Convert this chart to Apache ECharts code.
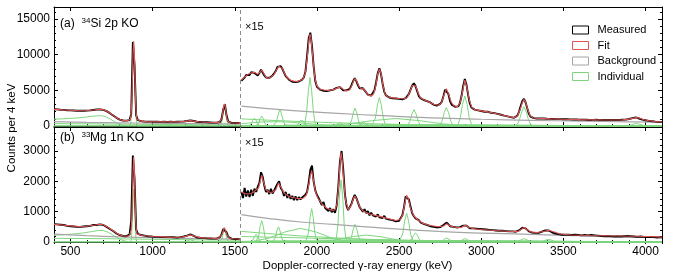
<!DOCTYPE html>
<html><head><meta charset="utf-8">
<script src="https://cdn.jsdelivr.net/npm/echarts@6/dist/echarts.min.js"></script>
<style>html,body{margin:0;padding:0;background:#fff}#c{width:675px;height:275px}</style>
</head><body><div id="c"></div>
<script>
// ---------- axis / scale constants ----------
const E_MIN = 400, E_MAX = 4100, SPLIT_E = 1535, SCALE = 15, BIN = 10;
const xMajor = [500, 1000, 1500, 2000, 2500, 3000, 3500, 4000];
const yMajorTop = [0, 5000, 10000, 15000];
const yMajorBot = [0, 1000, 2000, 3000];
const yMaxTop = 16700, yMaxBot = 3790;
const yMinorTop = 1000, yMinorBot = 200, xMinor = 100;

// ---------- (a) 34Si 2p KO : measured counts (displayed), 10 keV sampling ----------
const measTopLeftStart = 400;
const measTopLeft = [
2350,2310,2330,2280,2290,2250,2270,2230,2210,2240,
2190,2210,2170,2180,2150,2160,2130,2170,2150,2180,
2160,2200,2190,2240,2250,2290,2310,2350,2320,2340,
2260,2210,2080,1960,1800,1660,1480,1300,1150,990,
900,830,770,740,750,760,830,1700,11800,8600,
1500,820,740,690,660,640,620,610,600,610,
590,600,580,590,600,580,570,590,580,570,
580,590,570,580,590,600,590,610,620,640,
660,700,720,780,760,700,640,600,580,570,
550,540,530,520,510,500,490,480,480,470,
490,560,1050,2300,3050,1500,650,480,440,430,
420,410,420,400];
const measTopRightStart = 1540;
const measTopRight = [
6350,6550,6800,7150,7350,7150,7550,7650,7450,7200,
7100,7450,7900,7700,7100,6800,6600,6750,6950,7100,
7400,7750,8300,8550,8400,8000,7500,7000,6750,6500,
6400,6200,6350,6150,6300,6250,6450,6500,6800,7600,
9800,12300,13100,11200,8400,6300,5500,5300,5100,5200,
4950,5050,4900,5100,5000,5150,5100,5250,5350,5500,
5450,5250,5000,4900,5000,4950,5200,5700,6300,6700,
6300,5700,5300,5100,5300,5000,4700,4400,4200,4250,
4400,5000,6100,7400,8100,7300,5900,4800,4300,4150,
4000,4050,3900,3950,3850,3900,3800,3850,3750,3850,
3900,4100,4500,5100,5700,6000,5600,4900,4200,3900,
3800,3650,3550,3500,3350,3300,3100,3000,2950,2850,
2900,3100,3400,4200,5100,5300,4500,3500,3000,2750,
2700,2650,2750,3200,4200,5600,6600,5800,4400,3200,
2600,2350,2300,2250,2200,2150,2100,2150,2000,1950,
2000,1900,1850,1900,1800,1750,1700,1650,1580,1500,
1450,1400,1350,1300,1250,1200,1150,1200,1450,2000,
2800,3500,3800,3300,2500,1700,1300,1150,1100,1080,
1050,1100,1050,1000,1050,1000,1020,980,1000,960,
990,950,970,940,960,930,950,920,940,910,
930,900,920,890,910,880,900,870,890,860,
880,870,850,880,860,840,870,850,830,860,
840,820,850,830,840,820,850,830,840,860,
840,850,870,880,900,940,980,1050,1100,1150,
1200,1150,1050,980,900,850,800,760,720,700,
670,650,620,600,580,560,550];

// fit (a)
const fitTopLeft = [[400,2330],[450,2260],[500,2200],[550,2150],[600,2170],[640,2250],[670,2330],[690,2330],[710,2210],[730,1960],[750,1660],[770,1310],[790,1010],[810,830],[830,750],[850,760],[861,830],[865,950],[869,1570],[873,3330],[877,6570],[881,10270],[885,11900],[889,10270],[893,6570],[897,3330],[901,1570],[905,950],[912,760],[930,680],[960,620],[1000,595],[1100,580],[1160,595],[1200,650],[1230,760],[1250,690],[1280,590],[1320,530],[1380,485],[1405,510],[1412,600],[1417,703],[1422,1135],[1427,1895],[1432,2725],[1437,3100],[1442,2725],[1447,1895],[1452,1135],[1457,703],[1462,535],[1475,450],[1500,420],[1535,400]];
const fitTopRight = [[1540,6450],[1560,6850],[1580,7250],[1600,7450],[1620,7550],[1640,7250],[1652,7500],[1664,7850],[1676,7400],[1690,6850],[1705,6700],[1720,6850],[1740,7250],[1755,7900],[1768,8400],[1778,8500],[1790,8050],[1805,7300],[1820,6750],[1840,6400],[1860,6300],[1880,6250],[1900,6400],[1915,6600],[1930,7500],[1942,9800],[1952,12200],[1958,12900],[1964,12300],[1974,9900],[1986,7000],[1998,5700],[2015,5200],[2040,5050],[2070,5000],[2100,5100],[2125,5350],[2140,5450],[2155,5250],[2175,4950],[2195,5000],[2210,5500],[2222,6300],[2232,6650],[2242,6300],[2255,5600],[2270,5200],[2283,5250],[2298,4800],[2315,4300],[2330,4250],[2345,4500],[2358,5600],[2370,7300],[2380,8000],[2390,7400],[2402,5700],[2415,4500],[2430,4100],[2460,3950],[2500,3850],[2530,3820],[2550,4000],[2566,4800],[2580,5700],[2591,5950],[2602,5600],[2616,4600],[2630,3950],[2650,3700],[2680,3400],[2710,3050],[2740,2900],[2758,3250],[2772,4300],[2788,5250],[2802,4400],[2818,3300],[2835,2800],[2855,2700],[2872,3300],[2886,4800],[2900,6450],[2914,5300],[2928,3600],[2942,2650],[2960,2300],[3000,2120],[3040,1980],[3080,1800],[3120,1580],[3160,1350],[3200,1170],[3220,1400],[3238,2400],[3250,3300],[3260,3700],[3270,3350],[3282,2400],[3296,1500],[3315,1130],[3350,1070],[3420,1000],[3500,950],[3600,900],[3700,860],[3800,840],[3860,860],[3900,960],[3925,1100],[3945,1180],[3965,1080],[3990,880],[4020,730],[4060,630],[4100,560]];
const bgTopLeft = [[400,600],[600,520],[800,450],[1000,400],[1200,350],[1400,310],[1535,290]];
const bgTopRight = [[1540,2800],[1700,2450],[1900,2100],[2100,1800],[2400,1450],[2700,1150],[3000,950],[3300,800],[3600,680],[3900,590],[4100,530]];
const indivTopLeft = [
 [[400,950],[450,1000],[500,1060],[550,1150],[600,1270],[640,1380],[670,1440],[695,1420],[720,1250],[745,930],[770,580],[795,300],[820,120],[850,30],[880,0]],
 [[863,0],[868,605],[874,3000],[879,7840],[885,10800],[891,7840],[896,3000],[902,605],[907,0]],
 [[1408,0],[1415,148],[1423,737],[1430,1924],[1437,2650],[1444,1924],[1451,737],[1459,148],[1466,0]],
 [[400,330],[600,300],[800,260],[1000,220],[1200,190],[1400,160],[1535,140]],
 [[1182,0],[1194,10],[1206,50],[1218,130],[1230,180],[1242,130],[1254,50],[1266,10],[1278,0]]
];
const indivTopRight = [
 [[1582,0],[1591,62],[1601,306],[1610,800],[1620,1100],[1630,800],[1639,306],[1649,62],[1658,0]],
 [[1626,0],[1635,78],[1645,390],[1654,1016],[1664,1400],[1674,1016],[1683,390],[1693,78],[1702,0]],
 [[1733,0],[1744,129],[1754,640],[1765,1670],[1775,2300],[1785,1670],[1796,640],[1806,129],[1817,0]],
 [[1869,0],[1878,56],[1888,278],[1897,726],[1907,1000],[1917,726],[1926,278],[1936,56],[1945,0]],
 [[1916,0],[1927,381],[1937,1890],[1948,4937],[1958,6800],[1968,4937],[1979,1890],[1989,381],[2000,0]],
 [[2098,0],[2109,28],[2119,139],[2130,363],[2140,500],[2150,363],[2161,139],[2171,28],[2182,0]],
 [[2187,0],[2198,140],[2210,695],[2221,1815],[2232,2500],[2243,1815],[2254,695],[2266,140],[2277,0]],
 [[2238,0],[2249,34],[2261,167],[2272,436],[2283,600],[2294,436],[2305,167],[2317,34],[2328,0]],
 [[2332,0],[2344,224],[2356,1112],[2368,2904],[2380,4000],[2392,2904],[2404,1112],[2416,224],[2428,0]],
 [[2540,0],[2553,129],[2565,639],[2578,1670],[2591,2300],[2604,1670],[2617,639],[2629,129],[2642,0]],
 [[2737,0],[2750,146],[2762,723],[2775,1888],[2788,2600],[2801,1888],[2814,723],[2826,146],[2839,0]],
 [[2846,0],[2859,235],[2873,1168],[2886,3049],[2900,4200],[2914,3049],[2927,1168],[2941,235],[2954,0]],
 [[3202,0],[3217,151],[3231,751],[3246,1960],[3260,2700],[3274,1960],[3289,751],[3303,151],[3318,0]],
 [[3865,0],[3885,20],[3905,97],[3925,254],[3945,350],[3965,254],[3985,97],[4005,20],[4025,0]],
 [[1900,0],[2050,60],[2190,290],[2340,760],[2480,1050],[2620,760],[2770,290],[2910,60],[3060,0]],
 [[1540,300],[1600,450],[1680,580],[1750,600],[1820,560],[1900,420],[2000,220],[2100,80],[2200,0]],
 [[1540,1000],[1700,820],[1900,620],[2100,460],[2300,330],[2500,230],[2800,150],[3200,90],[3600,50],[4100,30]]
];

// ---------- (b) 33Mg 1n KO ----------
const measBotLeftStart = 400;
const measBotLeft = [
590,570,580,560,570,550,560,540,530,550,
520,530,510,520,500,510,500,520,510,530,
520,540,530,550,560,570,560,590,580,600,
560,540,500,470,430,400,360,320,280,250,
230,210,200,190,190,200,250,700,2850,2100,
420,270,250,230,220,210,200,190,190,180,
180,170,180,170,165,160,170,160,155,160,
150,160,150,155,150,145,150,160,170,180,
190,210,230,250,240,200,170,150,140,140,
130,135,125,120,125,115,120,110,115,110,
130,160,260,430,490,320,170,120,110,105,
100,95,100,90];
const measBotRightStart = 1540;
const measBotRight = [
1650,1450,1780,1500,1700,1480,1720,1520,1760,1650,
1820,1950,2300,2150,1850,1650,1720,1580,1750,1600,
1700,1650,1920,2000,1780,1700,1520,1650,1450,1580,
1420,1520,1380,1500,1380,1480,1400,1470,1460,1560,
1650,1950,2380,2520,2000,1700,1550,1450,1420,1220,
1320,1120,1180,1020,1120,980,1080,960,1200,1800,
2650,3000,2400,1600,1200,1050,1150,1250,1420,1550,
1450,1300,1150,1100,1000,1080,950,1020,880,960,
880,930,840,910,810,870,790,860,770,810,
740,780,720,760,680,730,700,760,880,1150,
1500,1560,1400,1150,950,850,780,740,720,650,
640,600,580,560,570,520,540,500,530,480,
510,490,530,560,620,640,580,520,480,500,
460,480,450,490,500,540,570,540,480,450,
430,450,410,440,400,430,390,420,380,410,
370,400,360,390,350,380,360,370,340,370,
330,360,340,350,330,350,320,340,350,380,
430,470,500,450,400,350,330,310,330,300,
320,300,330,340,360,380,390,380,350,320,
300,280,270,260,250,240,230,240,220,240,
210,230,220,240,210,230,200,220,210,230,
200,220,210,230,200,220,240,210,230,200,
220,190,210,200,220,190,210,180,200,190,
210,180,200,190,210,200,220,190,210,180,
200,170,190,180,200,170,190,160,180,170,
190,160,180,150,170,160,150];

const fitBotLeft = [[400,580],[450,560],[500,530],[550,510],[600,520],[650,560],[680,585],[700,570],[730,480],[760,370],[790,260],[820,200],[845,190],[860,215],[865,260],[869,400],[873,770],[877,1480],[881,2350],[885,2800],[889,2350],[893,1480],[897,770],[901,400],[905,260],[915,230],[940,215],[1000,180],[1100,160],[1170,155],[1200,185],[1230,240],[1255,190],[1290,145],[1350,125],[1400,120],[1412,150],[1422,250],[1430,380],[1437,470],[1444,380],[1452,250],[1462,150],[1475,115],[1500,105],[1535,95]];
const fitBotRight = [[1540,1650],[1560,1600],[1580,1580],[1600,1600],[1615,1650],[1630,1720],[1645,1780],[1655,2000],[1664,2200],[1675,1980],[1690,1720],[1710,1640],[1730,1640],[1750,1720],[1766,1950],[1780,1820],[1800,1610],[1830,1500],[1860,1460],[1890,1430],[1915,1440],[1935,1540],[1948,1800],[1958,2150],[1968,2350],[1978,2080],[1990,1680],[2005,1450],[2030,1260],[2060,1110],[2090,1050],[2110,1060],[2122,1250],[2132,1850],[2140,2550],[2147,2950],[2155,2650],[2164,1950],[2174,1380],[2190,1060],[2208,1200],[2222,1430],[2232,1520],[2244,1380],[2260,1160],[2283,1010],[2320,920],[2360,870],[2400,820],[2440,760],[2480,710],[2508,740],[2522,900],[2535,1280],[2546,1540],[2557,1420],[2570,1100],[2590,860],[2610,750],[2640,630],[2670,565],[2700,535],[2740,505],[2770,525],[2790,600],[2810,525],[2850,475],[2880,485],[2902,560],[2925,480],[2960,435],[3000,410],[3080,380],[3160,352],[3220,342],[3245,420],[3260,480],[3275,420],[3300,335],[3340,315],[3380,345],[3410,385],[3440,335],[3480,265],[3550,232],[3650,216],[3750,208],[3850,196],[3950,188],[4050,172],[4100,162]];
const bgBotLeft = [[400,260],[600,210],[800,170],[1000,140],[1200,120],[1400,100],[1535,90]];
const bgBotRight = [[1540,900],[1700,780],[1900,660],[2100,580],[2300,500],[2600,390],[2900,310],[3200,265],[3500,220],[3800,180],[4100,140]];
const indivBotLeft = [
 [[400,220],[460,240],[520,265],[580,300],[630,345],[670,380],[700,375],[730,320],[760,220],[790,120],[820,50],[850,10],[880,0]],
 [[866,0],[871,98],[875,487],[880,1270],[885,1750],[890,1270],[895,487],[899,98],[904,0]],
 [[1408,0],[1415,24],[1423,117],[1430,305],[1437,420],[1444,305],[1451,117],[1459,24],[1466,0]],
 [[400,120],[700,110],[1000,90],[1300,70],[1535,60]],
 [[1182,0],[1194,4],[1206,22],[1218,58],[1230,80],[1242,58],[1254,22],[1266,4],[1278,0]]
];
const indivBotRight = [
 [[1592,0],[1601,14],[1611,70],[1620,182],[1630,250],[1640,182],[1649,70],[1659,14],[1668,0]],
 [[1626,0],[1635,39],[1645,195],[1654,508],[1664,700],[1674,508],[1683,195],[1693,39],[1702,0]],
 [[1728,0],[1737,28],[1747,139],[1756,363],[1766,500],[1776,363],[1785,139],[1795,28],[1804,0]],
 [[1930,0],[1939,62],[1949,306],[1958,799],[1968,1100],[1978,799],[1987,306],[1997,62],[2006,0]],
 [[1540,20],[1612,25],[1708,125],[1804,327],[1900,450],[1996,327],[2092,125],[2188,25],[2284,0]],
 [[2109,0],[2118,115],[2128,570],[2137,1488],[2147,2050],[2157,1488],[2166,570],[2176,115],[2185,0]],
 [[2187,0],[2198,32],[2210,161],[2221,421],[2232,580],[2243,421],[2254,161],[2266,32],[2277,0]],
 [[1916,0],[2012,13],[2108,64],[2204,167],[2300,230],[2396,167],[2492,64],[2588,13],[2684,0]],
 [[2498,0],[2510,53],[2522,264],[2534,690],[2546,950],[2558,690],[2570,264],[2582,53],[2594,0]],
 [[2552,0],[2564,17],[2576,83],[2588,218],[2600,300],[2612,218],[2624,83],[2636,17],[2648,0]],
 [[2736,0],[2749,7],[2763,36],[2776,94],[2790,130],[2804,94],[2817,36],[2831,7],[2844,0]],
 [[2848,0],[2861,6],[2875,31],[2888,80],[2902,110],[2916,80],[2929,31],[2943,6],[2956,0]],
 [[3196,0],[3212,6],[3228,31],[3244,80],[3260,110],[3276,80],[3292,31],[3308,6],[3324,0]],
 [[3346,0],[3362,5],[3378,25],[3394,65],[3410,90],[3426,65],[3442,25],[3458,5],[3474,0]],
 [[1540,350],[1700,280],[1900,200],[2100,140],[2300,90],[2600,50],[3000,25],[4100,10]],
 [[1540,180],[1800,150],[2100,110],[2500,60],[3000,30],[4100,10]]
];

// ---------- styling ----------
const FONT = "'Liberation Sans', Arial, Helvetica, sans-serif";
const C_MEAS = '#000000', C_FIT = '#e25555', C_BG = '#a6a6a6', C_IND = '#7fd67f';
const plainNum = v => String(v);

function pairs(start, vals){ return vals.map((v, i) => [start + i * BIN, v]); }
function padBase(arr, lo, hi){
  const out = arr.slice();
  if (out[0][0] > lo) out.unshift([lo, 0]);
  if (out[out.length-1][0] < hi) out.push([hi, 0]);
  return out;
}

function xAxes(gi, showLabels){
  const base = {type:'value', gridIndex:gi, min:E_MIN, max:E_MAX, splitLine:{show:false}, silent:true};
  return [
    Object.assign({}, base, {position:'bottom',
      axisLine:{show:true, onZero:false, lineStyle:{color:'#000', width:1}},
      axisTick:{show:true, inside:true, length:4, customValues:xMajor, lineStyle:{color:'#000', width:1}},
      axisLabel:{show:showLabels, customValues:xMajor, formatter:plainNum, color:'#000', fontSize:12, fontFamily:FONT, margin:4}}),
    Object.assign({}, base, {position:'bottom', interval:xMinor,
      axisLine:{show:false}, axisTick:{show:true, inside:true, length:2, lineStyle:{color:'#000', width:1}},
      axisLabel:{show:false}}),
    Object.assign({}, base, {position:'top',
      axisLine:{show:true, onZero:false, lineStyle:{color:'#000', width:1}},
      axisTick:{show:true, inside:true, length:4, customValues:xMajor, lineStyle:{color:'#000', width:1}},
      axisLabel:{show:false}}),
    Object.assign({}, base, {position:'top', interval:xMinor,
      axisLine:{show:false}, axisTick:{show:true, inside:true, length:2, lineStyle:{color:'#000', width:1}},
      axisLabel:{show:false}})
  ];
}
function yAxes(gi, ymax, majors, minorStep){
  const base = {type:'value', gridIndex:gi, min:0, max:ymax, splitLine:{show:false}, silent:true};
  return [
    Object.assign({}, base, {position:'left',
      axisLine:{show:true, onZero:false, lineStyle:{color:'#000', width:1}},
      axisTick:{show:true, inside:true, length:4, customValues:majors, lineStyle:{color:'#000', width:1}},
      axisLabel:{show:true, customValues:majors, formatter:plainNum, color:'#000', fontSize:12, fontFamily:FONT, margin:4}}),
    Object.assign({}, base, {position:'left', interval:minorStep,
      axisLine:{show:false}, axisTick:{show:true, inside:true, length:2, lineStyle:{color:'#000', width:1}},
      axisLabel:{show:false}}),
    Object.assign({}, base, {position:'right',
      axisLine:{show:true, onZero:false, lineStyle:{color:'#000', width:1}},
      axisTick:{show:true, inside:true, length:4, customValues:majors, lineStyle:{color:'#000', width:1}},
      axisLabel:{show:false}}),
    Object.assign({}, base, {position:'right', interval:minorStep,
      axisLine:{show:false}, axisTick:{show:true, inside:true, length:2, lineStyle:{color:'#000', width:1}},
      axisLabel:{show:false}})
  ];
}

function ln(name, data, gi, color, width, z, smooth){
  return {type:'line', name, data, xAxisIndex:gi*4, yAxisIndex:gi*4, showSymbol:false, symbol:'none',
    smooth: smooth || false, lineStyle:{color, width}, itemStyle:{color}, z, silent:true,
    animation:false, emphasis:{disabled:true}, clip:true};
}

const series = [];
function panel(gi, measL, measLStart, measR, measRStart, fitL, fitR, bgL, bgR, indL, indR){
  indL.forEach(d => series.push(ln('Individual', padBase(d, E_MIN, SPLIT_E), gi, C_IND, 1, 1)));
  indR.forEach(d => series.push(ln('Individual', padBase(d, measRStart, E_MAX), gi, C_IND, 1, 1)));
  const bgl = ln('Background', bgL, gi, C_BG, 1.2, 2, true);
  bgl.markLine = {symbol:['none','none'], silent:true, animation:false, label:{show:false},
    lineStyle:{type:[4,3], color:'#8c8c8c', width:1}, emphasis:{disabled:true}, data:[{xAxis:SPLIT_E}]};
  series.push(bgl);
  series.push(ln('Background', bgR, gi, C_BG, 1.2, 2, true));
  series.push(ln('Measured', pairs(measLStart, measL), gi, C_MEAS, 1.9, 3));
  series.push(ln('Measured', pairs(measRStart, measR), gi, C_MEAS, 1.9, 3));
  series.push(ln('Fit', fitL, gi, C_FIT, 1.1, 4));
  series.push(ln('Fit', fitR, gi, C_FIT, 1.1, 4));
}
panel(0, measTopLeft, measTopLeftStart, measTopRight, measTopRightStart, fitTopLeft, fitTopRight, bgTopLeft, bgTopRight, indivTopLeft, indivTopRight);
panel(1, measBotLeft, measBotLeftStart, measBotRight, measBotRightStart, fitBotLeft, fitBotRight, bgBotLeft, bgBotRight, indivBotLeft, indivBotRight);

function txt(x, y, text, size, extra){
  return Object.assign({type:'text', x, y, silent:true, z:100,
    style:{text, fontSize:size, fontFamily:FONT, fill:'#000', verticalAlign:'middle', align:'left'}}, extra || {});
}
const scaleLabel = '\u00d7' + SCALE;

const option = {
  animation:false,
  backgroundColor:'#fff',
  grid:[
    {left:54, top:7, width:608, height:119},
    {left:54, top:127, width:608, height:115}
  ],
  xAxis: [].concat(xAxes(0, false), xAxes(1, true)),
  yAxis: [].concat(yAxes(0, yMaxTop, yMajorTop, yMinorTop), yAxes(1, yMaxBot, yMajorBot, yMinorBot)),
  legend:{
    orient:'vertical', left:567, top:18, itemWidth:16, itemHeight:8, itemGap:1.5, icon:'rect',
    selectedMode:false,
    textStyle:{fontSize:11, fontFamily:FONT, color:'#000', lineHeight:14, padding:[0,0,0,4]},
    data:[
      {name:'Measured', itemStyle:{color:'rgba(0,0,0,0)', borderColor:C_MEAS, borderWidth:1}},
      {name:'Fit', itemStyle:{color:'rgba(0,0,0,0)', borderColor:C_FIT, borderWidth:1}},
      {name:'Background', itemStyle:{color:'rgba(0,0,0,0)', borderColor:C_BG, borderWidth:1}},
      {name:'Individual', itemStyle:{color:'rgba(0,0,0,0)', borderColor:C_IND, borderWidth:1}}
    ]
  },
  series,
  graphic:[
    txt(60, 23.5, '(a)', 12), txt(81.5, 20.5, '34', 8), txt(90.5, 23.5, 'Si 2p KO', 12),
    txt(60, 137.5, '(b)', 12), txt(81.5, 134.5, '33', 8), txt(90, 137.5, 'Mg 1n KO', 12),
    txt(245, 26.5, scaleLabel, 11), txt(245, 142.5, scaleLabel, 11),
    {type:'text', x:12, y:128, rotation:Math.PI/2, silent:true,
      style:{text:'Counts per 4 keV', fontSize:11.5, fontFamily:FONT, fill:'#000', align:'center', verticalAlign:'middle'}},
    {type:'text', x:357.5, y:266, silent:true,
      style:{text:'Doppler-corrected \u03b3-ray energy (keV)', fontSize:11.5, fontFamily:FONT, fill:'#000', align:'center', verticalAlign:'middle'}}
  ]
};
const chart = echarts.init(document.getElementById('c'), null, {renderer:'canvas'});
chart.setOption(option);
</script>
</body></html>
